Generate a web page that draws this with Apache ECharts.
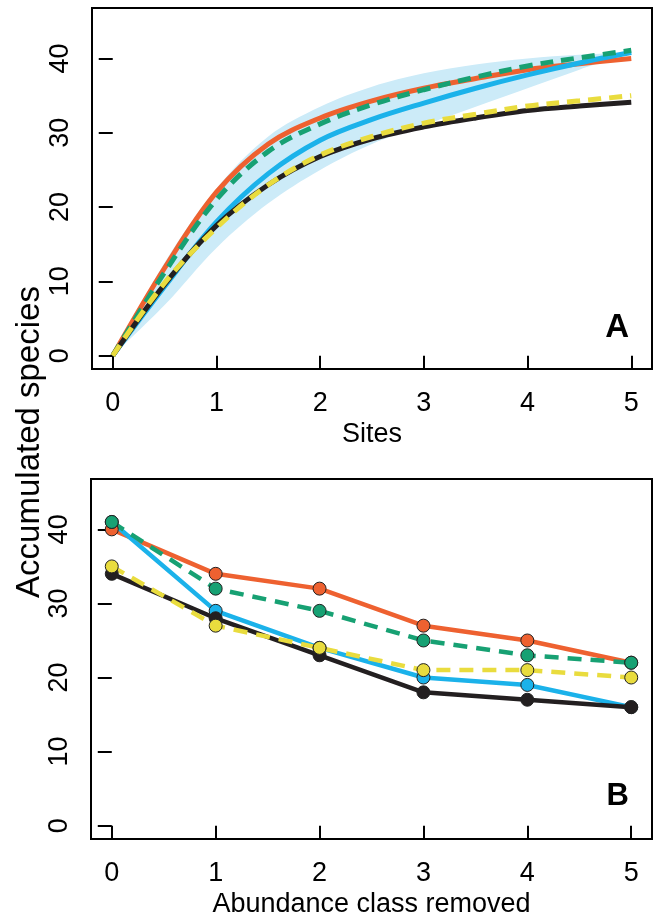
<!DOCTYPE html>
<html>
<head>
<meta charset="utf-8">
<script src="https://cdn.jsdelivr.net/npm/echarts@6/dist/echarts.min.js"></script>
<style>html,body{margin:0;padding:0;background:#fff}#c{width:661px;height:922px}</style>
</head>
<body>
<div id="c"></div>
<script>
// ---------- Panel A data (Sites vs accumulated species) ----------
const sitesA   = [0, 0.5, 1, 1.5, 2, 2.5, 3, 3.5, 4, 4.5, 5];
const orangeA  = [0, 11.8, 22, 28.5, 32, 34.3, 36, 37.3, 38.5, 39.3, 40];
const greenA   = [0, 11.2, 21, 27.5, 31.2, 33.8, 35.8, 37.5, 39, 40.1, 41.1];
const blueA    = [0, 9.3, 18, 24.5, 29, 31.8, 34, 36, 37.8, 39.4, 40.8];
const yellowA  = [0, 9.8, 17.2, 23, 27, 29.5, 31.3, 32.5, 33.6, 34.3, 35];
const blackA   = [0, 9.6, 17.5, 23, 26.8, 29.2, 30.8, 32, 33, 33.6, 34.1];
const bandLowA = [0, 6.8, 14.5, 20.5, 25, 28.5, 31, 33.5, 36, 38.5, 40.8];
const bandHighA= [0, 12.5, 22.5, 29.5, 33.5, 36.2, 38, 39.2, 40, 40.5, 40.8];

// ---------- Panel B data (abundance class removed) ----------
const classB  = [0, 1, 2, 3, 4, 5];
const orangeB = [40, 34, 32, 27, 25, 22];
const blueB   = [41, 29, 24, 20, 19, 16];
const greenB  = [41, 32, 29, 25, 23, 22];
const blackB  = [34, 28, 23, 18, 17, 16];
const yellowB = [35, 27, 24, 21, 21, 20];

// ---------- ticks / labels ----------
const xTicks = [0, 1, 2, 3, 4, 5];
const yTicks = [0, 10, 20, 30, 40];
const yTitle = 'Accumulated species';
const xTitleA = 'Sites';
const xTitleB = 'Abundance class removed';

const FONT = "'Liberation Sans', Arial, Helvetica, sans-serif";
const C = {orange:'#EE6130', green:'#17A173', blue:'#1BB2EA', yellow:'#E9DC3E', black:'#231F20', band:'#CCEBF8'};

const X_MIN = -0.2, X_MAX = 5.2, Y_MIN = -1.8, Y_MAX = 46.8;
const GA = {left: 92, top: 8, width: 560, height: 361};
const GB = {left: 91, top: 479, width: 561, height: 360};

const pair = (xs, ys) => xs.map((x, i) => [x, ys[i]]);

function xAxis(gi, name) {
  return {
    gridIndex: gi, type: 'value', min: X_MIN, max: X_MAX,
    axisLine: {show: false}, splitLine: {show: false},
    axisTick: {show: true, length: 14, customValues: xTicks, lineStyle: {width: 2, color: '#000'}},
    axisLabel: {customValues: xTicks, fontSize: 27, color: '#000', margin: 21, fontFamily: FONT},
    name: name, nameLocation: 'middle', nameGap: 52,
    nameTextStyle: {fontSize: 27, color: '#000', fontFamily: FONT}
  };
}
function yAxis(gi) {
  return {
    gridIndex: gi, type: 'value', min: Y_MIN, max: Y_MAX,
    axisLine: {show: false}, splitLine: {show: false},
    axisTick: {show: true, length: 14, customValues: yTicks, lineStyle: {width: 2, color: '#000'}},
    axisLabel: {customValues: yTicks, fontSize: 27, color: '#000', margin: 18, rotate: 90, fontFamily: FONT}
  };
}
function lineA(data, color, dashed) {
  return {
    type: 'line', xAxisIndex: 0, yAxisIndex: 0, data: data, smooth: 0.35, symbol: 'none',
    lineStyle: {color: color, width: 5, type: dashed ? [13, 8] : 'solid', cap: 'butt'}
  };
}
function lineB(data, color, dashed) {
  return {
    type: 'line', xAxisIndex: 1, yAxisIndex: 1, data: data, symbol: 'circle', symbolSize: 13,
    lineStyle: {color: color, width: 4.5, type: dashed ? [14, 9] : 'solid', cap: 'butt'},
    itemStyle: {color: color, borderColor: '#222', borderWidth: 1}
  };
}

// hidden grid for the band: spans exactly sites 0..5 of panel A so a category axis can stack
const pxPerUnit = GA.width / (X_MAX - X_MIN);
const GBand = {left: GA.left + (0 - X_MIN) * pxPerUnit, top: GA.top, width: 5 * pxPerUnit, height: GA.height};

const chart = echarts.init(document.getElementById('c'), null, {renderer: 'canvas'});
chart.setOption({
  animation: false,
  backgroundColor: '#fff',
  grid: [
    Object.assign({show: true, borderColor: '#000', borderWidth: 2, backgroundColor: 'transparent'}, GA),
    Object.assign({show: true, borderColor: '#000', borderWidth: 2, backgroundColor: 'transparent'}, GB),
    Object.assign({show: false}, GBand)
  ],
  xAxis: [xAxis(0, xTitleA), xAxis(1, xTitleB),
    {gridIndex: 2, type: 'category', data: sitesA.map(String), boundaryGap: false, show: false}],
  yAxis: [yAxis(0), yAxis(1),
    {gridIndex: 2, type: 'value', min: Y_MIN, max: Y_MAX, show: false}],
  graphic: [
    {type: 'text', x: 30, y: 442, rotation: Math.PI / 2, z: 100,
     style: {text: yTitle, fontSize: 33, fontFamily: FONT, fill: '#000', align: 'center', verticalAlign: 'middle'}},
    {type: 'text', x: 629, y: 344, z: 100,
     style: {text: 'A', fontSize: 33, fontWeight: 'bold', fontFamily: FONT, fill: '#000', align: 'right', verticalAlign: 'bottom'}},
    {type: 'text', x: 629, y: 812, z: 100,
     style: {text: 'B', fontSize: 31, fontWeight: 'bold', fontFamily: FONT, fill: '#000', align: 'right', verticalAlign: 'bottom'}}
  ],
  series: [
    {type: 'line', xAxisIndex: 2, yAxisIndex: 2, data: bandLowA, stack: 'band', smooth: 0.35,
     symbol: 'none', lineStyle: {width: 0, opacity: 0}},
    {type: 'line', xAxisIndex: 2, yAxisIndex: 2, data: bandHighA.map((h, i) => h - bandLowA[i]), stack: 'band', smooth: 0.35,
     symbol: 'none', lineStyle: {width: 0, opacity: 0}, areaStyle: {color: C.band, opacity: 1}},
    lineA(pair(sitesA, orangeA), C.orange, false),
    lineA(pair(sitesA, blueA), C.blue, false),
    lineA(pair(sitesA, greenA), C.green, true),
    lineA(pair(sitesA, blackA), C.black, false),
    lineA(pair(sitesA, yellowA), C.yellow, true),
    lineB(pair(classB, orangeB), C.orange, false),
    lineB(pair(classB, blueB), C.blue, false),
    lineB(pair(classB, greenB), C.green, true),
    lineB(pair(classB, blackB), C.black, false),
    lineB(pair(classB, yellowB), C.yellow, true)
  ]
});
</script>
</body>
</html>
